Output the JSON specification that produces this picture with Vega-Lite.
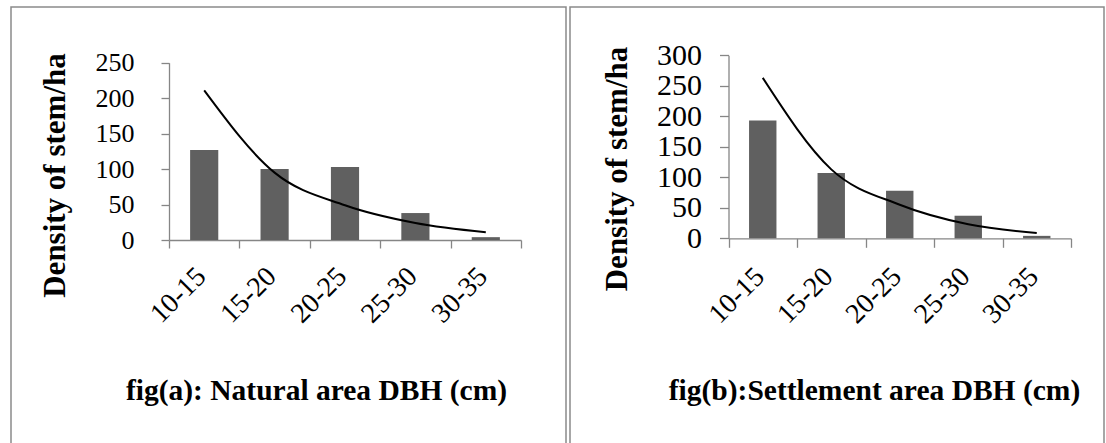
{
  "$schema": "https://vega.github.io/schema/vega-lite/v6.json",
  "padding": {"left": 0, "top": 6, "right": 0, "bottom": 0},
  "autosize": {"type": "pad"},
  "spacing": 4,
  "bounds": "flush",
  "background": "white",
  "config": {
    "view": {"stroke": "#8a8a8a", "strokeWidth": 1.5},
    "font": "Liberation Serif",
    "axis": {
      "grid": false,
      "domainColor": "#868686",
      "domainWidth": 1.3,
      "tickColor": "#868686",
      "tickWidth": 1.3,
      "labelColor": "black",
      "titleColor": "black",
      "labelFont": "Liberation Serif",
      "titleFont": "Liberation Serif",
      "titleFontWeight": "bold",
      "labelOverlap": false,
      "labelFlush": false,
      "labelLimit": 500,
      "titleLimit": 1000,
      "minExtent": 0
    }
  },
  "datasets": {
    "a": [
      {"dbh": "10-15", "density": 127, "trend": 211},
      {"dbh": "15-20", "density": 100, "trend": 95},
      {"dbh": "20-25", "density": 103, "trend": 49},
      {"dbh": "25-30", "density": 38, "trend": 24},
      {"dbh": "30-35", "density": 4, "trend": 11}
    ],
    "b": [
      {"dbh": "10-15", "density": 193, "trend": 263},
      {"dbh": "15-20", "density": 107, "trend": 113},
      {"dbh": "20-25", "density": 78, "trend": 55},
      {"dbh": "25-30", "density": 37, "trend": 23},
      {"dbh": "30-35", "density": 4, "trend": 8.5}
    ]
  },
  "hconcat": [
    {
      "width": 555,
      "height": 437,
      "data": {"name": "a"},
      "encoding": {
        "x": {
          "field": "dbh", "type": "ordinal", "sort": null,
          "scale": {"range": [158, 510], "paddingInner": 0, "paddingOuter": 0},
          "axis": {
            "title": "fig(a): Natural area DBH (cm)",
            "orient": "bottom", "offset": -204,
            "labelAngle": -45, "labelAlign": "right", "labelBaseline": "middle",
            "labelFontSize": 28, "labelPadding": 24, "labelOffset": -3,
            "tickBand": "extent", "tickSize": 8,
            "titleFontSize": 29.5, "titleX": 305, "titleY": 159,
            "titleBaseline": "alphabetic", "titleAlign": "center"
          }
        }
      },
      "layer": [
        {
          "mark": {"type": "bar", "color": "#606060", "width": {"band": 0.4}},
          "encoding": {
            "y": {
              "field": "density", "type": "quantitative", "title": "Density of stem/ha",
              "scale": {"domain": [0, 250], "range": [233, 55.7], "nice": false},
              "axis": {
                "orient": "left", "offset": -158,
                "values": [0, 50, 100, 150, 200, 250],
                "labelFontSize": 26, "labelPadding": 27, "tickSize": 8,
                "titleFontSize": 31, "titleX": -114, "titleY": 168,
                "titleAngle": -90, "titleBaseline": "middle", "titleAlign": "center"
              }
            }
          }
        },
        {
          "mark": {"type": "line", "color": "black", "strokeWidth": 2, "interpolate": "monotone"},
          "encoding": {
            "y": {"field": "trend", "type": "quantitative", "title": "Density of stem/ha"}
          }
        }
      ]
    },
    {
      "width": 534,
      "height": 437,
      "data": {"name": "b"},
      "encoding": {
        "x": {
          "field": "dbh", "type": "ordinal", "sort": null,
          "scale": {"range": [158.5, 501], "paddingInner": 0, "paddingOuter": 0},
          "axis": {
            "title": "fig(b):Settlement area DBH (cm)",
            "orient": "bottom", "offset": -205.7,
            "labelAngle": -45, "labelAlign": "right", "labelBaseline": "middle",
            "labelFontSize": 28, "labelPadding": 25, "labelOffset": -3,
            "tickBand": "extent", "tickSize": 9,
            "titleFontSize": 29.5, "titleX": 304, "titleY": 160.7,
            "titleBaseline": "alphabetic", "titleAlign": "center"
          }
        }
      },
      "layer": [
        {
          "mark": {"type": "bar", "color": "#606060", "width": {"band": 0.4}},
          "encoding": {
            "y": {
              "field": "density", "type": "quantitative", "title": "Density of stem/ha",
              "scale": {"domain": [0, 300], "range": [231.3, 48.3], "nice": false},
              "axis": {
                "orient": "left", "offset": -158.5,
                "values": [0, 50, 100, 150, 200, 250, 300],
                "labelFontSize": 30, "labelPadding": 18, "tickSize": 9,
                "titleFontSize": 31, "titleX": -111, "titleY": 161.5,
                "titleAngle": -90, "titleBaseline": "middle", "titleAlign": "center"
              }
            }
          }
        },
        {
          "mark": {"type": "line", "color": "black", "strokeWidth": 2, "interpolate": "monotone"},
          "encoding": {
            "y": {"field": "trend", "type": "quantitative", "title": "Density of stem/ha"}
          }
        }
      ]
    }
  ]
}
